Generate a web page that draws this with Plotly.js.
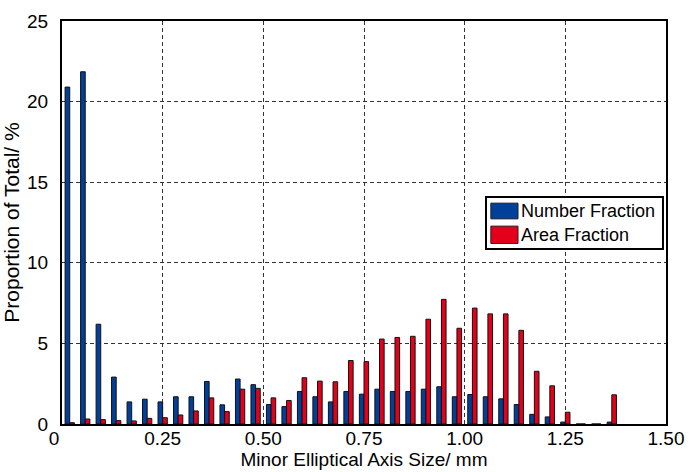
<!DOCTYPE html>
<html>
<head>
<meta charset="utf-8">
<script src="https://cdn.plot.ly/plotly-3.0.1.min.js"></script>
<style>
  html, body { margin: 0; padding: 0; background: #ffffff; }
  #chart { width: 689px; height: 472px; }
</style>
</head>
<body>
<div id="chart"></div>
<script>
// Bin centres of the minor elliptical axis histogram (mm)
const binCentres = [
  0.0192, 0.0577, 0.0962, 0.1346, 0.1731, 0.2115, 0.2500, 0.2885, 0.3269, 0.3654,
  0.4038, 0.4423, 0.4808, 0.5192, 0.5577, 0.5962, 0.6346, 0.6731, 0.7115, 0.7500,
  0.7885, 0.8269, 0.8654, 0.9038, 0.9423, 0.9808, 1.0192, 1.0577, 1.0962, 1.1346,
  1.1731, 1.2115, 1.2500, 1.2885, 1.3269, 1.3654
];

// Proportion of total (%) by count
const numberFraction = [
  20.9, 21.85, 6.19, 2.91, 1.37, 1.54, 1.37, 1.69, 1.69, 2.64,
  1.19, 2.79, 2.44, 1.21, 1.08, 2.02, 1.69, 1.37, 2.02, 1.85,
  2.16, 2.02, 2.02, 2.16, 2.31, 1.69, 1.83, 1.69, 1.56, 1.21,
  0.6, 0.44, 0.12, 0, 0, 0.12
];

// Proportion of total (%) by area
const areaFraction = [
  0.08, 0.31, 0.27, 0.21, 0.19, 0.35, 0.39, 0.56, 0.81, 1.62,
  0.77, 2.16, 2.21, 1.62, 1.46, 2.87, 2.66, 2.62, 3.94, 3.87,
  5.27, 5.37, 5.44, 6.5, 7.73, 5.94, 7.19, 6.83, 6.83, 5.81,
  3.27, 2.37, 0.73, 0, 0, 1.81
];

const seriesNames = ['Number Fraction', 'Area Fraction'];
const xTickValues = [0, 0.25, 0.5, 0.75, 1.0, 1.25, 1.5];
const xTickLabels = ['0\u00a0\u00a0\u00a0', '0.25', '0.50', '0.75', '1.00', '1.25', '1.50'];
const yTickValues = [0, 5, 10, 15, 20, 25];

const BLUE = '#00409a';
const RED = '#e4001b';
const FONT = 'Liberation Sans, Arial, Helvetica, sans-serif';

const traces = [
  {
    type: 'bar', name: seriesNames[0], x: binCentres, y: numberFraction,
    marker: { color: BLUE, line: { color: '#111111', width: 1 } },
    showlegend: false
  },
  {
    type: 'bar', name: seriesNames[1], x: binCentres, y: areaFraction,
    marker: { color: RED, line: { color: '#111111', width: 1 } },
    showlegend: false
  }
];

// Hand-built legend box with wide swatches
const legendShapes = [
  { type: 'rect', xref: 'paper', yref: 'paper', x0: 0.702, x1: 0.995, y0: 0.434, y1: 0.563,
    fillcolor: '#ffffff', line: { color: '#000000', width: 2 }, layer: 'above' },
  { type: 'rect', xref: 'paper', yref: 'paper', x0: 0.710, x1: 0.755, y0: 0.509, y1: 0.548,
    fillcolor: BLUE, line: { color: '#222222', width: 1 }, layer: 'above' },
  { type: 'rect', xref: 'paper', yref: 'paper', x0: 0.710, x1: 0.755, y0: 0.448, y1: 0.491,
    fillcolor: RED, line: { color: '#222222', width: 1 }, layer: 'above' }
];

const legendLabels = [
  { xref: 'paper', yref: 'paper', x: 0.757, y: 0.529, xanchor: 'left', yanchor: 'middle',
    text: seriesNames[0], showarrow: false, font: { family: FONT, size: 18, color: '#000000' } },
  { xref: 'paper', yref: 'paper', x: 0.757, y: 0.469, xanchor: 'left', yanchor: 'middle',
    text: seriesNames[1], showarrow: false, font: { family: FONT, size: 18, color: '#000000' } }
];

const layout = {
  width: 689,
  height: 472,
  margin: { l: 62, r: 23, t: 21, b: 48 },
  paper_bgcolor: '#ffffff',
  plot_bgcolor: '#ffffff',
  font: { family: FONT, size: 19, color: '#000000' },
  barmode: 'group',
  bargap: 0.4,
  bargroupgap: 0,
  showlegend: false,
  xaxis: {
    range: [0, 1.5],
    tickvals: xTickValues,
    ticktext: xTickLabels,
    ticks: '',
    showline: true, mirror: true, linecolor: '#000000', linewidth: 2,
    showgrid: true, gridcolor: '#333333', gridwidth: 1, griddash: '4px,3px',
    zeroline: false,
    ticklabelstandoff: -4,
    tickfont: { family: FONT, size: 19 },
    title: { text: 'Minor Elliptical Axis Size/ mm', font: { family: FONT, size: 19 }, standoff: 1 }
  },
  yaxis: {
    range: [0, 25],
    tickvals: yTickValues,
    ticks: '',
    showline: true, mirror: true, linecolor: '#000000', linewidth: 2,
    showgrid: true, gridcolor: '#333333', gridwidth: 1, griddash: '4px,3px',
    zeroline: false,
    ticklabelstandoff: 8,
    tickfont: { family: FONT, size: 19 },
    title: { text: 'Proportion of Total/ %', font: { family: FONT, size: 21 }, standoff: 3 }
  },
  shapes: legendShapes,
  annotations: legendLabels
};

Plotly.newPlot('chart', traces, layout, { staticPlot: true, displayModeBar: false });
</script>
</body>
</html>
